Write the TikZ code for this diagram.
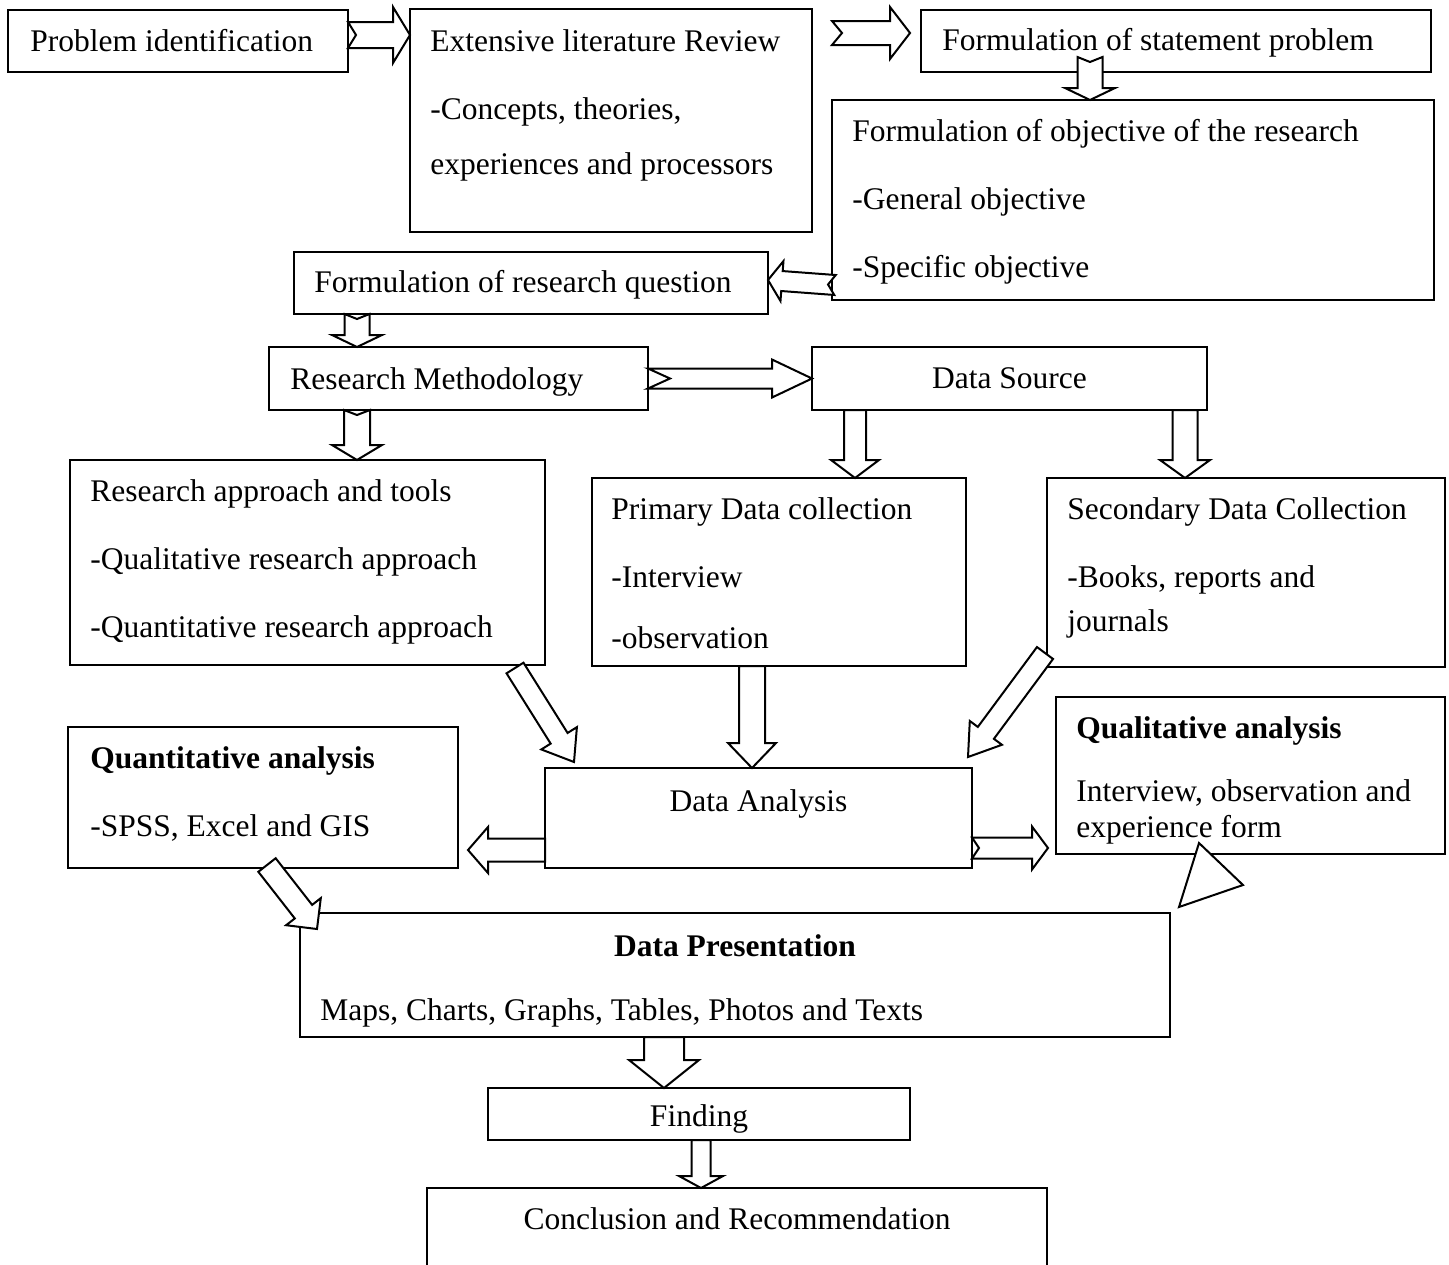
\documentclass[tikz,border=0pt]{standalone}
\usepackage{fontspec}
\setmainfont{Liberation Serif}
\usepackage{tikz}
\usetikzlibrary{calc}
\newcommand\flowfont{\fontsize{15.75}{34}\selectfont}
\tikzset{
  flow box/.style={draw,line width=1pt,anchor=north west,inner sep=0pt,outer sep=0pt},
  flow text/.style={anchor=north west,inner sep=0pt,align=left,font=\flowfont},
  flow title/.style={flow text,anchor=north,align=center},
  % fat outlined arrow: shaft half width, head half width, head length, tail notch (px)
  block arrow/.style n args={4}{draw,line width=1pt,fill=white,line join=miter,
    to path={let \p1=(\tikztostart),\p2=(\tikztotarget),
      \n1={veclen(\x2-\x1,\y2-\y1)},\n2={atan2(\y2-\y1,\x2-\x1)},
      \n3={cos(\n2)},\n4={sin(\n2)},\n5={\n1-#3*0.5} in
      ({\x1-(#1*0.5)*\n4},{\y1+(#1*0.5)*\n3})
      -- ({\x1+\n5*\n3-(#1*0.5)*\n4},{\y1+\n5*\n4+(#1*0.5)*\n3})
      -- ({\x1+\n5*\n3-(#2*0.5)*\n4},{\y1+\n5*\n4+(#2*0.5)*\n3})
      -- (\tikztotarget)
      -- ({\x1+\n5*\n3+(#2*0.5)*\n4},{\y1+\n5*\n4-(#2*0.5)*\n3})
      -- ({\x1+\n5*\n3+(#1*0.5)*\n4},{\y1+\n5*\n4-(#1*0.5)*\n3})
      -- ({\x1+(#1*0.5)*\n4},{\y1-(#1*0.5)*\n3})
      -- ({\x1+(#4*0.5)*\n3},{\y1+(#4*0.5)*\n4})
      -- cycle}}
}
\begin{document}
\begin{tikzpicture}[x=0.5pt,y=-0.5pt]
\useasboundingbox (0,0) rectangle (1449,1264);
% boxes
\node[flow box,minimum width=170pt,minimum height=31pt] (prob) at (8,10) {};
\node[flow box,minimum width=201pt,minimum height=111.5pt] (lit) at (410,9) {};
\node[flow box,minimum width=255pt,minimum height=31pt] (stmt) at (921,10) {};
\node[flow box,minimum width=301pt,minimum height=100pt] (obj) at (832,100) {};
\node[flow box,minimum width=237pt,minimum height=31pt] (rq) at (294,252) {};
\node[flow box,minimum width=189.5pt,minimum height=31.5pt] (meth) at (269,347) {};
\node[flow box,minimum width=197.5pt,minimum height=31.5pt] (src) at (812,347) {};
\node[flow box,minimum width=237.5pt,minimum height=102.5pt] (appr) at (70,460) {};
\node[flow box,minimum width=187pt,minimum height=94pt] (prim) at (592,478) {};
\node[flow box,minimum width=199pt,minimum height=94.5pt] (sec) at (1047,478) {};
\node[flow box,minimum width=195pt,minimum height=70.5pt] (quant) at (68,727) {};
\node[flow box,minimum width=213.5pt,minimum height=50pt] (ana) at (545,768) {};
\node[flow box,minimum width=194.5pt,minimum height=78.5pt] (qual) at (1056,697) {};
\node[flow box,minimum width=435pt,minimum height=62pt] (pres) at (300,913) {};
\node[flow box,minimum width=211pt,minimum height=26pt] (find) at (488,1088) {};
\node[flow box,minimum width=310pt,minimum height=56pt] (conc) at (427,1188) {};
% texts
\node[flow text] (probT) at ([shift={(22,19)}]prob.north west) {Problem identification};
\node[flow text] (litT) at ([shift={(20,20)}]lit.north west)
  {Extensive literature Review\\-Concepts, theories,\\[-6.5pt]experiences and processors};
\node[flow text] (stmtT) at ([shift={(21,18)}]stmt.north west) {Formulation of statement problem};
\node[flow text] (objT) at ([shift={(20,19)}]obj.north west)
  {Formulation of objective of the research\\-General objective\\-Specific objective};
\node[flow text] (rqT) at ([shift={(20,18)}]rq.north west) {Formulation of research question};
\node[flow text] (methT) at ([shift={(21,20)}]meth.north west) {Research Methodology};
\node[flow title] (srcT) at ([shift={(0,20)}]src.north) {Data Source};
\node[flow text] (apprT) at ([shift={(20,19)}]appr.north west)
  {Research approach and tools\\-Qualitative research approach\\-Quantitative research approach};
\node[flow text] (primT) at ([shift={(19,19)}]prim.north west)
  {Primary Data collection\\-Interview\\[-3.5pt]-observation};
\node[flow text] (secT) at ([shift={(20,19)}]sec.north west)
  {Secondary Data Collection\\-Books, reports and\\[-12pt]journals};
\node[flow text] (quantT) at ([shift={(22,19)}]quant.north west)
  {\textbf{Quantitative analysis}\\-SPSS, Excel and GIS};
\node[flow title] (anaT) at ([shift={(0,21)}]ana.north) {Data Analysis};
\node[flow text] (qualT) at ([shift={(20,19)}]qual.north west)
  {\textbf{Qualitative analysis}\\[-2.5pt]Interview, observation and\\[-16pt]experience form};
\node[flow title] (presT) at ([shift={(0,21)}]pres.north) {\textbf{Data Presentation}};
\node[flow text] (presB) at ([shift={(20,85)}]pres.north west)
  {Maps, Charts, Graphs, Tables, Photos and Texts};
\node[flow title] (findT) at ([shift={(0,16)}]find.north) {Finding};
\node[flow title] (concT) at ([shift={(0,19)}]conc.north) {Conclusion and Recommendation};
% arrows
\draw[block arrow={13}{28}{17}{8}] ([shift={(0,25)}]prob.north east) to ([shift={(0,26)}]lit.north west);
\draw[block arrow={12}{26}{20}{10}] ([shift={(20,24)}]lit.north east) to ([shift={(-11,23)}]stmt.north west);
\draw[block arrow={12.5}{25}{12}{5}] ([shift={(169,-15)}]stmt.south west) to ([shift={(258,0)}]obj.north west);
\draw[block arrow={10}{20}{14}{7}] ([shift={(3,-15)}]obj.south west) to ([shift={(0,-3)}]rq.east);
\draw[block arrow={12.5}{25}{12}{5}] ([shift={(63,0)}]rq.south west) to ([shift={(88,0)}]meth.north west);
\draw[block arrow={10}{19}{40}{22}] (meth.east) to (src.west);
\draw[block arrow={13}{25}{15}{5}] ([shift={(88,0)}]meth.south west) to ([shift={(287,0)}]appr.north west);
\draw[block arrow={11}{24}{18}{0}] ([shift={(43,0)}]src.south west) to ([shift={(263,0)}]prim.north west);
\draw[block arrow={12.5}{25}{18}{0}] ([shift={(-22,0)}]src.south east) to ([shift={(138,0)}]sec.north west);
\draw[block arrow={10}{21}{28}{0}] ([shift={(-30,3)}]appr.south east) to ([shift={(29,-6)}]ana.north west);
\draw[block arrow={13}{24}{25}{0}] ([shift={(160,0)}]prim.south west) to ([shift={(207,0)}]ana.north west);
\draw[block arrow={10}{20}{30}{0}] ([shift={(-2,-14)}]sec.south west) to ([shift={(-4,-11)}]ana.north east);
\draw[block arrow={11.5}{23}{20}{0}] ([shift={(0,82)}]ana.north west) to ([shift={(10,123)}]quant.north east);
\draw[block arrow={10.5}{21.5}{16}{7}] ([shift={(0,80)}]ana.north east) to ([shift={(-8,151)}]qual.north west);
\draw[block arrow={11}{22}{22}{0}] ([shift={(199,-3)}]quant.south west) to ([shift={(17,16)}]pres.north west);
\draw[block arrow={20}{35}{28}{0}] ([shift={(364,0)}]pres.south west) to ([shift={(176,0)}]find.north west);
\draw[block arrow={9.5}{22}{12}{0}] ([shift={(213,0)}]find.south west) to ([shift={(274,0)}]conc.north west);
% loose head under the qualitative box
\draw[line width=1pt,fill=white] (1199,843) -- (1243,885) -- (1179,907) -- cycle;
\end{tikzpicture}
\end{document}
